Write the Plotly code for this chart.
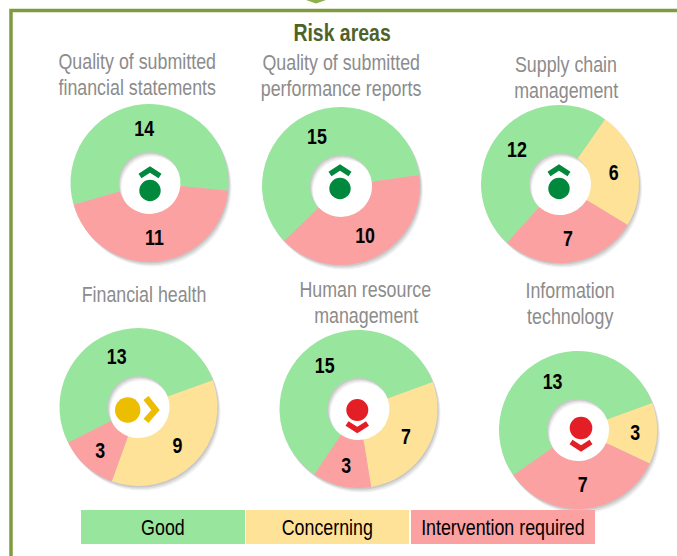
import plotly.graph_objects as go

W, H = 677, 556
FONT = "Liberation Sans, Arial, sans-serif"

# ---- data ----
categories = ["Good", "Concerning", "Intervention required"]
colors = ["#98e59e", "#fee297", "#fba1a1"]

quality_financial = [14, 0, 11]
quality_performance = [15, 0, 10]
supply_chain = [12, 6, 7]
financial_health = [13, 9, 3]
human_resource = [15, 7, 3]
information_technology = [13, 3, 7]
# The IT donut is printed "7" for its red slice, but that slice is drawn at
# about 120 degrees, i.e. 8 of 24. Its drawn sizes are kept apart from its labels.
information_technology_drawn = [13, 3, 8]

titles = [
    ["Quality of submitted", "financial statements"],
    ["Quality of submitted", "performance reports"],
    ["Supply chain", "management"],
    ["Financial health"],
    ["Human resource", "management"],
    ["Information", "technology"],
]
printed = [quality_financial, quality_performance, supply_chain,
           financial_health, human_resource, information_technology]
drawn = [quality_financial, quality_performance, supply_chain,
         financial_health, human_resource, information_technology_drawn]

# ---- layout ----
R = 79
HOLE = 31 / 79
centers = [(149.5, 183), (341, 186), (560, 184), (138.5, 407), (358.5, 409), (578, 430)]
rotations = [254, 226, 222, 243, 214, 235]
title_pos = [(136.5, [61.5, 87]), (340.5, [62.5, 88.5]), (566, [64.5, 90]),
             (143.5, [294.5]), (365.5, [289.5, 315]), (570, [290.5, 316.5])]
# icon: colour, circle centre, circle radius, chevron points
GREEN, AMBER, RED = "#00893d", "#ecbd00", "#e31e26"
icons = [
    (GREEN, (150, 190.5), 10.7, [(140, 176), (150, 169.5), (160, 176)]),
    (GREEN, (340, 188.5), 10.7, [(330, 174), (340, 167.5), (350, 174)]),
    (GREEN, (559, 188.5), 10.7, [(549, 174), (559, 167.5), (569, 174)]),
    (AMBER, (127.7, 410), 12.7, [(146, 398), (155.5, 410), (146, 421)]),
    (RED, (357.3, 410), 11, [(347, 423.5), (357.3, 430), (367.5, 423.5)]),
    (RED, (581, 428), 11.3, [(571, 442), (581, 448.5), (591, 442)]),
]
legend_boxes = [(81, 245), (246, 409), (411, 595)]
LEG_Y = (510, 544)


def X(x):
    return x / W


def Y(y):
    return 1 - y / H


fig = go.Figure()
SHADOW = [(1, 1.5, 0.13), (2, 3, 0.10), (3, 4.5, 0.07)]
for (cx, cy) in centers:
    for dx, dy, alpha in SHADOW:
        fig.add_trace(go.Pie(
            values=[1], sort=False, hole=HOLE, textinfo="none", hoverinfo="skip",
            showlegend=False,
            marker=dict(colors=[f"rgba(60,60,60,{alpha})"], line=dict(width=0)),
            domain=dict(x=[X(cx - R + dx), X(cx + R + dx)],
                        y=[Y(cy + R + dy), Y(cy - R + dy)]),
        ))
for (cx, cy), rot, vals, labs in zip(centers, rotations, drawn, printed):
    fig.add_trace(go.Pie(
        labels=categories, values=vals, text=[str(v) if v else "" for v in labs],
        textinfo="text", textposition="inside", insidetextorientation="horizontal",
        textfont=dict(family=FONT, size=22, color="black", weight=700),
        sort=False, direction="clockwise", rotation=rot, hole=HOLE,
        showlegend=False, hoverinfo="label+value",
        marker=dict(colors=colors, line=dict(width=0)),
        domain=dict(x=[X(cx - R), X(cx + R)], y=[Y(cy + R), Y(cy - R)]),
    ))

shapes = []
annotations = []


def path(points, close=False):
    d = "M " + " L ".join(f"{X(x):.5f} {Y(y):.5f}" for x, y in points)
    return d + (" Z" if close else "")


FRAME = "#7f9b3f"
shapes.append(dict(type="path", xref="paper", yref="paper", layer="below",
                   path=path([(11, H + 5), (11, 10.5), (W + 5, 10.5)]),
                   line=dict(color=FRAME, width=3.5)))
shapes.append(dict(type="path", xref="paper", yref="paper",
                   path=path([(306, 0), (326, 0), (316, 3.5)], close=True),
                   fillcolor="#8eb04a", line=dict(width=0)))

for color, (cx, cy), r, chev in icons:
    shapes.append(dict(type="circle", xref="paper", yref="paper",
                       x0=X(cx - r), x1=X(cx + r), y0=Y(cy + r), y1=Y(cy - r),
                       fillcolor=color, line=dict(width=0)))
    shapes.append(dict(type="path", xref="paper", yref="paper", path=path(chev),
                       line=dict(color=color, width=6.5 if color == AMBER else 5.5)))


def text(x, y, s, size, color, bold=False):
    annotations.append(dict(
        xref="paper", yref="paper", x=X(x), y=Y(y), text=s,
        showarrow=False, xanchor="center", yanchor="middle",
        font=dict(family=FONT, size=size, color=color, weight=700 if bold else 400)))


text(342, 33, "Risk areas", 24, "#4f6228", bold=True)
for lines, (tx, ys) in zip(titles, title_pos):
    for line, ty in zip(lines, ys):
        text(tx, ty, line, 22, "#8c8c8c")

for name, color, (x0, x1) in zip(categories, colors, legend_boxes):
    shapes.append(dict(type="rect", xref="paper", yref="paper",
                       x0=X(x0), x1=X(x1), y0=Y(LEG_Y[1]), y1=Y(LEG_Y[0]),
                       fillcolor=color, line=dict(width=0)))
    text((x0 + x1) / 2, sum(LEG_Y) / 2, name, 22, "black")

fig.update_layout(width=W, height=H, margin=dict(l=0, r=0, t=0, b=0),
                  paper_bgcolor="white", shapes=shapes, annotations=annotations)

# No narrow font is installed, so real text is condensed to the reference's proportions.
CONDENSE = """
document.body.style.margin = '0';
document.querySelectorAll('text.annotation-text, text.slicetext').forEach(function (t) {
  var n = t.getComputedTextLength();
  if (n > 0) {
    t.setAttribute('textLength', (n * 0.81).toFixed(1));
    t.setAttribute('lengthAdjust', 'spacingAndGlyphs');
  }
});
"""
fig.write_html("out.html", post_script=CONDENSE, config={"displayModeBar": False})
